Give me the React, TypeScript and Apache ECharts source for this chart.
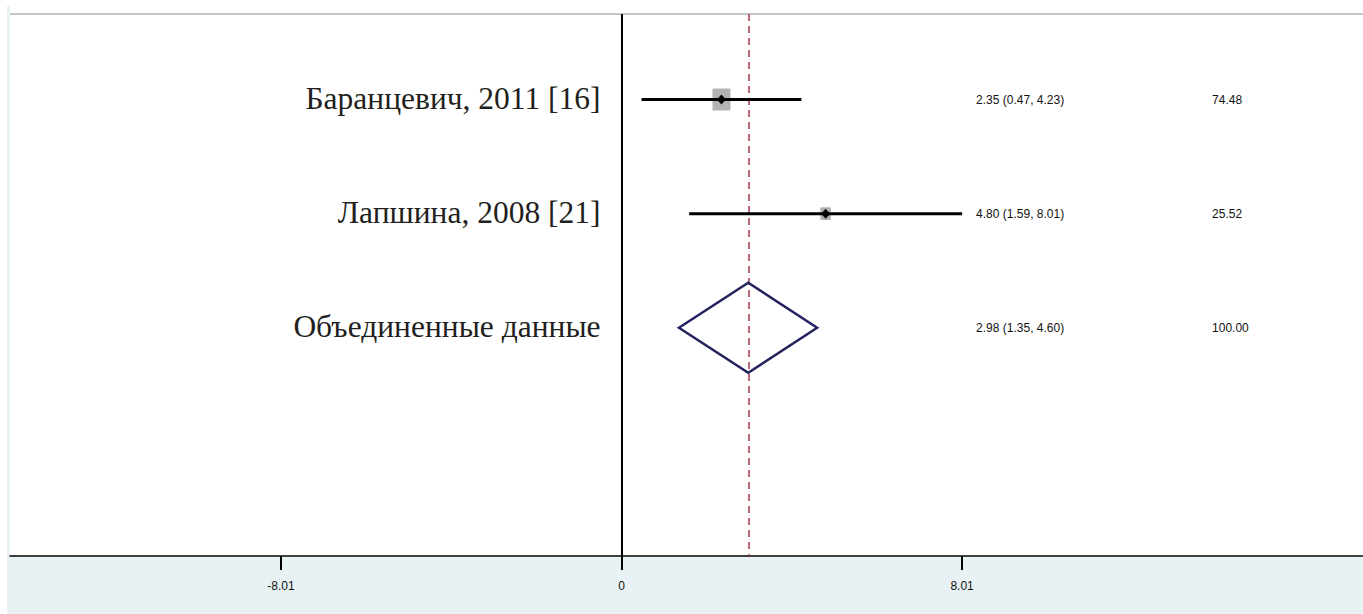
import React, { useEffect, useRef } from "react";
import * as echarts from "echarts";

const studyLabels = ["Баранцевич, 2011 [16]", "Лапшина, 2008 [21]"];
const studyEst = [2.35, 4.8];
const studyLow = [0.47, 1.59];
const studyHigh = [4.23, 8.01];
const studyWeight = [74.48, 25.52];

const pooledLabel = "Объединенные данные";
const pooledEst = 2.98;
const pooledLow = 1.35;
const pooledHigh = 4.6;
const pooledWeight = 100.0;

const tickValues = [-8.01, 0, 8.01];

const fmt = (v: number) => v.toFixed(2);

export default function App() {
  const ref = useRef<HTMLDivElement>(null);
  useEffect(() => {
    if (!ref.current) return;
    const chart = echarts.init(ref.current, undefined, { renderer: "svg" });

    const studyData = studyEst.map((e, i) => [e, studyLow[i], studyHigh[i], i + 1, studyWeight[i]]);
    const pooledData = [[pooledEst, pooledLow, pooledHigh, studyLabels.length + 1, pooledWeight]];
    const maxW = Math.max(...studyWeight);

    const textEls = (api: any, row: number, label: string, est: number, lo: number, hi: number, w: number) => {
      const y = api.coord([0, row])[1];
      const x0 = api.coord([0, row])[0];
      const x8 = api.coord([8.01, row])[0];
      return [
        {
          type: "text",
          style: {
            x: x0 - 21,
            y: y - 1,
            text: label,
            textAlign: "right",
            textVerticalAlign: "middle",
            font: '31.5px "Liberation Serif"',
            fill: "#231f20",
          },
        },
        {
          type: "text",
          style: {
            x: x8 + 14,
            y: y,
            text: `${fmt(est)} (${fmt(lo)}, ${fmt(hi)})`,
            textAlign: "left",
            textVerticalAlign: "middle",
            font: '12px "Liberation Sans"',
            fill: "#111",
          },
        },
        {
          type: "text",
          style: {
            x: x8 + 250,
            y: y,
            text: fmt(w),
            textAlign: "left",
            textVerticalAlign: "middle",
            font: '12px "Liberation Sans"',
            fill: "#111",
          },
        },
      ];
    };

    const option: any = {
      animation: false,
      backgroundColor: "#ffffff",
      grid: { left: 10, right: 0, top: 14, bottom: 58, containLabel: false },
      xAxis: {
        type: "value",
        min: -14.385,
        max: 17.44,
        splitLine: { show: false },
        axisLine: { show: true, onZero: false, lineStyle: { color: "#000", width: 1.5 } },
        axisTick: { show: true, customValues: tickValues, length: 14, lineStyle: { color: "#000", width: 2 } },
        axisLabel: {
          show: true,
          customValues: tickValues,
          formatter: (v: number) => (v === 0 ? "0" : fmt(v)),
          fontFamily: "Liberation Sans",
          fontSize: 12,
          color: "#111",
          margin: 24,
        },
      },
      yAxis: {
        type: "value",
        inverse: true,
        min: 0.25,
        max: 5,
        show: false,
        splitLine: { show: false },
      },
      graphic: [
        { type: "rect", shape: { x: 8, y: 557, width: 1355, height: 57 }, style: { fill: "#e8f1f3" }, z: -10 },
        { type: "rect", shape: { x: 7, y: 6, width: 3, height: 608 }, style: { fill: "#e8f1f3" }, z: -10 },
        { type: "line", shape: { x1: 10, y1: 14, x2: 1363, y2: 14 }, style: { stroke: "#c6c6c6", lineWidth: 2 }, z: -5 },
      ],
      series: [
        {
          type: "line",
          data: [],
          z: 1,
          markLine: {
            silent: true,
            symbol: "none",
            label: { show: false },
            data: [
              { xAxis: 0, lineStyle: { color: "#000", width: 2, type: "solid" } },
              { xAxis: pooledEst, lineStyle: { color: "#a63a4a", width: 1.5, type: [7, 5] } },
            ],
          },
        },
        {
          type: "custom",
          z: 5,
          data: studyData,
          renderItem: (params: any, api: any) => {
            const est = api.value(0);
            const lo = api.value(1);
            const hi = api.value(2);
            const row = api.value(3);
            const w = api.value(4);
            const i = params.dataIndex;
            const [xe, y] = api.coord([est, row]);
            const xl = api.coord([lo, row])[0];
            const xh = api.coord([hi, row])[0];
            const s = Math.sqrt(w / maxW);
            const bw = 18 * s;
            const bh = 22 * s;
            return {
              type: "group",
              children: [
                { type: "rect", shape: { x: xe - bw / 2, y: y - bh / 2, width: bw, height: bh, r: 1 }, style: { fill: "#b3b3b3" } },
                { type: "line", shape: { x1: xl, y1: y, x2: xh, y2: y }, style: { stroke: "#000", lineWidth: 3 } },
                {
                  type: "polygon",
                  shape: { points: [[xe - 4.5, y], [xe, y - 5], [xe + 4.5, y], [xe, y + 5]] },
                  style: { fill: "#000" },
                },
                ...textEls(api, row, studyLabels[i], est, lo, hi, w),
              ],
            };
          },
        },
        {
          type: "custom",
          z: 5,
          data: pooledData,
          renderItem: (params: any, api: any) => {
            const est = api.value(0);
            const lo = api.value(1);
            const hi = api.value(2);
            const row = api.value(3);
            const w = api.value(4);
            const [xe, y] = api.coord([est, row]);
            const xl = api.coord([lo, row])[0];
            const xh = api.coord([hi, row])[0];
            return {
              type: "group",
              children: [
                {
                  type: "polygon",
                  shape: { points: [[xl, y], [xe, y - 45], [xh, y], [xe, y + 45]] },
                  style: { fill: "none", stroke: "#25235f", lineWidth: 2.5, lineJoin: "miter" },
                },
                ...textEls(api, row, pooledLabel, est, lo, hi, w),
              ],
            };
          },
        },
      ],
    };
    chart.setOption(option);
    return () => chart.dispose();
  }, []);
  return <div ref={ref} style={{ position: "fixed", left: 0, top: 0, width: 1363, height: 614 }} />;
}
